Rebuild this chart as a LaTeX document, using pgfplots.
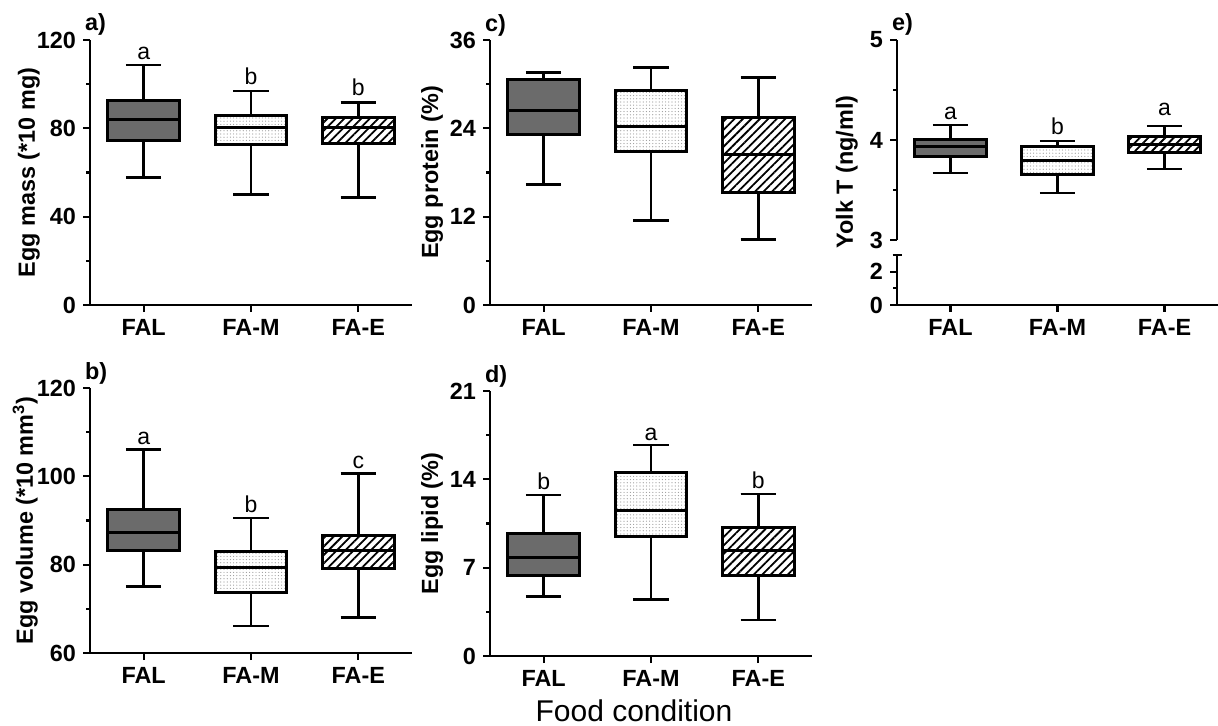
\documentclass[border=0pt]{standalone}
\usepackage{fontspec}
\setmainfont{Liberation Sans}
\usepackage{pgfplots}
\pgfplotsset{compat=1.18}
\usepgfplotslibrary{statistics}
\usetikzlibrary{patterns.meta}
\definecolor{falgray}{HTML}{6B6B6B}
\newcommand{\tfont}{\fontsize{11.7}{13}\selectfont\bfseries}
\newcommand{\lfont}{\fontsize{11.5}{13}\selectfont}
\pgfplotsset{
 myax/.style={
  scale only axis, width=161pt, height=132.5pt,
  axis x line*=bottom, axis y line*=left,
  axis line style={line width=1.2pt,-},
  tick align=outside, major tick length=3.5pt, minor tick length=2pt,
  every tick/.style={black, line width=1.1pt},
  xmin=-0.5, xmax=2.5, xtick={0,1,2}, xticklabels={FAL,FA-M,FA-E},
  minor y tick num=1,
  /pgf/number format/assume math mode=true,
  ticklabel style={font=\tfont},
  ylabel style={font=\tfont},
  clip=false,
  boxplot/draw direction=y,
 },
 falbox/.style={draw=black, line width=1.5pt, fill=falgray},
 fambox/.style={draw=black, line width=1.5pt, pattern color=gray!80, pattern={Dots[distance=1.6pt,radius=0.3pt]}},
 faebox/.style={draw=black, line width=1.5pt, pattern color=black, pattern={Lines[angle=45,distance=3pt,line width=0.9pt]}},
}
% style, position, lw, q1, med, q3, uw
\newcommand{\bx}[7]{\addplot[#1, boxplot/draw direction=y, boxplot/every whisker/.style={line width=1.35pt}, boxplot prepared={draw position=#2, lower whisker=#3, lower quartile=#4, median=#5, upper quartile=#6, upper whisker=#7, box extend=0.67, whisker extend=0.33}] coordinates {};}
\newcommand{\plabel}[1]{\node[anchor=base west, font=\tfont, xshift=-6pt, yshift=4.5pt] at (axis description cs:0,1) {#1};}
\begin{document}
\begin{tikzpicture}
% a) Egg mass
\begin{axis}[myax, at={(45pt,-152.5pt)}, anchor=south west,
  ymin=0, ymax=120, ytick={0,40,80,120},
  ylabel={Egg mass (*10 mg)},
  ylabel style={at={(axis description cs:-0.1335,0.5)}, anchor=south}]
\bx{falbox}{0}{57.7}{74.7}{84.2}{92.8}{108.7}
\bx{fambox}{1}{50.0}{72.9}{80.6}{85.6}{96.9}
\bx{faebox}{2}{48.6}{73.2}{80.5}{85.0}{91.6}
\node[anchor=base, font=\lfont, yshift=2.8pt] at (axis cs:0,108.7) {a};
\node[anchor=base, font=\lfont, yshift=3.5pt] at (axis cs:1,96.9) {b};
\node[anchor=base, font=\lfont, yshift=3.5pt] at (axis cs:2,91.6) {b};
\plabel{a)}
\end{axis}
% c) Egg protein
\begin{axis}[myax, at={(245pt,-152.5pt)}, anchor=south west,
  ymin=0, ymax=36, ytick={0,12,24,36},
  ylabel={Egg protein (\%)},
  ylabel style={at={(axis description cs:-0.124,0.5)}, anchor=south}]
\bx{falbox}{0}{16.4}{23.2}{26.4}{30.7}{31.6}
\bx{fambox}{1}{11.5}{20.9}{24.3}{29.1}{32.3}
\bx{faebox}{2}{8.9}{15.3}{20.4}{25.5}{30.9}
\plabel{c)}
\end{axis}
% e) Yolk T upper
\begin{axis}[myax, at={(448.5pt,-120pt)}, anchor=south west, width=160.5pt, height=100pt,
  axis x line=none, axis y line*=left,
  ymin=3, ymax=5, ytick={3,4,5},
  ylabel={Yolk T (ng/ml)},
  ylabel style={at={(axis description cs:-0.1,0.34)}, anchor=south}]
\bx{falbox}{0}{3.67}{3.83}{3.93}{4.00}{4.15}
\bx{fambox}{1}{3.47}{3.65}{3.79}{3.93}{3.99}
\bx{faebox}{2}{3.71}{3.87}{3.95}{4.03}{4.14}
\node[anchor=base, font=\lfont, yshift=2.5pt] at (axis cs:0,4.15) {a};
\node[anchor=base, font=\lfont, yshift=3pt] at (axis cs:1,3.99) {b};
\node[anchor=base, font=\lfont, yshift=5.3pt] at (axis cs:2,4.14) {a};
\plabel{e)}
\end{axis}
% e) lower
\begin{axis}[myax, at={(448.5pt,-152.5pt)}, anchor=south west, width=160.5pt, height=25pt,
  ymin=0, ymax=3, ytick={0,2}, minor y tick num=0, minor ytick={1},
  extra y ticks={3}, extra y tick labels={},
  extra y tick style={tick align=center, major tick length=4.5pt}]
\addplot[draw=none] coordinates {(0,1)};
\end{axis}
% b) Egg volume
\begin{axis}[myax, at={(45pt,-326.5pt)}, anchor=south west,
  ymin=60, ymax=120, ytick={60,80,100,120},
  ylabel={Egg volume (*10 mm\textsuperscript{3})},
  ylabel style={at={(axis description cs:-0.14,0.5)}, anchor=south}]
\bx{falbox}{0}{75.0}{83.2}{87.3}{92.5}{106.0}
\bx{fambox}{1}{66.1}{73.6}{79.4}{82.9}{90.6}
\bx{faebox}{2}{68.0}{79.2}{83.1}{86.6}{100.7}
\node[anchor=base, font=\lfont, yshift=2.5pt] at (axis cs:0,106.0) {a};
\node[anchor=base, font=\lfont, yshift=2.5pt] at (axis cs:1,90.6) {b};
\node[anchor=base, font=\lfont, yshift=2.5pt] at (axis cs:2,100.7) {c};
\plabel{b)}
\end{axis}
% d) Egg lipid
\begin{axis}[myax, at={(245pt,-328pt)}, anchor=south west,
  ymin=0, ymax=21, ytick={0,7,14,21},
  ylabel={Egg lipid (\%)},
  ylabel style={at={(axis description cs:-0.124,0.5)}, anchor=south}]
\bx{falbox}{0}{4.70}{6.34}{7.82}{9.72}{12.76}
\bx{fambox}{1}{4.49}{9.46}{11.57}{14.55}{16.72}
\bx{faebox}{2}{2.85}{6.34}{8.40}{10.20}{12.84}
\node[anchor=base, font=\lfont, yshift=2.5pt] at (axis cs:0,12.76) {b};
\node[anchor=base, font=\lfont, yshift=2.5pt] at (axis cs:1,16.72) {a};
\node[anchor=base, font=\lfont, yshift=2.8pt] at (axis cs:2,12.84) {b};
\plabel{d)}
\end{axis}
\node[anchor=base, font=\fontsize{15}{17}\selectfont] at (317pt,-360.5pt) {Food condition};
\pgfresetboundingbox
\path (0,0) rectangle (609pt,-363pt);
\end{tikzpicture}
\end{document}
